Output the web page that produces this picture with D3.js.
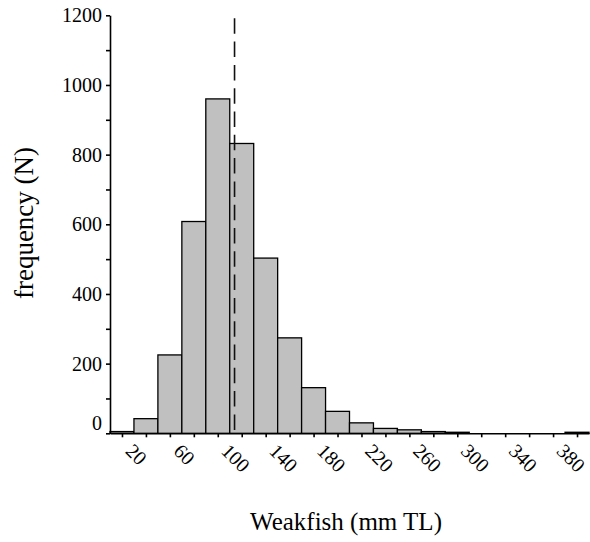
<!DOCTYPE html>
<html>
<head>
<meta charset="utf-8">
<script src="https://cdn.jsdelivr.net/npm/d3@7"></script>
<style>
  body { margin: 0; background: #fff; }
  svg { display: block; }
  .axis path, .axis line { stroke: #000; stroke-width: 1.6px; }
  .axis text { font-family: "Liberation Serif", "Times New Roman", serif; font-size: 20px; fill: #000; }
  .bar { fill: #c0c0c0; stroke: #000; stroke-width: 1.3px; }
  .title { font-family: "Liberation Serif", "Times New Roman", serif; fill: #000; }
</style>
</head>
<body>
<div id="chart"></div>
<script>
// bin centres (mm TL), 20 mm wide bins
var binCenters = [20, 40, 60, 80, 100, 120, 140, 160, 180, 200,
                  220, 240, 260, 280, 300, 320, 340, 360, 380, 400];
var counts = [5, 42, 225, 608, 960, 832, 503, 274, 131, 63,
              30, 14, 10, 5, 3, 0, 0, 0, 0, 3];
var binWidth = 20;
var meanLength = 114;

var yTicks = [0, 200, 400, 600, 800, 1000, 1200];
var xTickLabels = [20, 60, 100, 140, 180, 220, 260, 300, 340, 380];

var width = 590, height = 542;

var x = d3.scaleLinear().domain([10, 410]).range([110, 589]);
var y = d3.scaleLinear().domain([0, 1200]).range([433.3, 15.3]);

var svg = d3.select("#chart").append("svg")
    .attr("width", width)
    .attr("height", height);

// bars
svg.selectAll(".bar")
    .data(binCenters.map(function(c, i) { return {c: c, n: counts[i]}; })
          .filter(function(d) { return d.n > 0; }))
  .enter().append("rect")
    .attr("class", "bar")
    .attr("x", function(d) { return x(d.c - binWidth / 2); })
    .attr("y", function(d) { return y(d.n); })
    .attr("width", function(d) { return x(d.c + binWidth / 2) - x(d.c - binWidth / 2); })
    .attr("height", function(d) { return y(0) - y(d.n); });

// mean line
svg.append("line")
    .attr("x1", x(meanLength)).attr("x2", x(meanLength))
    .attr("y1", y(1200) + 3).attr("y2", y(0))
    .attr("stroke", "#111")
    .attr("stroke-width", 1.6)
    .attr("stroke-dasharray", "15.5,7.8");

// y axis
var yAxis = svg.append("g")
    .attr("class", "axis")
    .attr("transform", "translate(" + x(10) + ",0)")
    .call(d3.axisLeft(y)
        .tickValues(d3.range(0, 1201, 100))
        .tickFormat(function(d) { return yTicks.indexOf(d) >= 0 ? d : ""; })
        .tickSize(4).tickSizeOuter(0).tickPadding(4));
yAxis.selectAll("text")
    .filter(function(d) { return d === 0; })
    .attr("transform", "translate(0,-10)");

// x axis
var xAxis = svg.append("g")
    .attr("class", "axis")
    .attr("transform", "translate(0," + y(0) + ")")
    .call(d3.axisBottom(x)
        .tickValues(d3.range(20, 401, 20))
        .tickFormat(function(d) { return xTickLabels.indexOf(d) >= 0 ? d : ""; })
        .tickSize(4).tickSizeOuter(0));
xAxis.selectAll("text")
    .attr("y", 0)
    .attr("dy", 0)
    .attr("text-anchor", "start")
    .attr("transform", "translate(2,19) rotate(45)");

// titles
svg.append("text")
    .attr("class", "title")
    .attr("transform", "translate(33,223) rotate(-90)")
    .attr("text-anchor", "middle")
    .style("font-size", "27px")
    .text("frequency (N)");

svg.append("text")
    .attr("class", "title")
    .attr("x", 346).attr("y", 530)
    .attr("text-anchor", "middle")
    .style("font-size", "25px")
    .text("Weakfish (mm TL)");
</script>
</body>
</html>
